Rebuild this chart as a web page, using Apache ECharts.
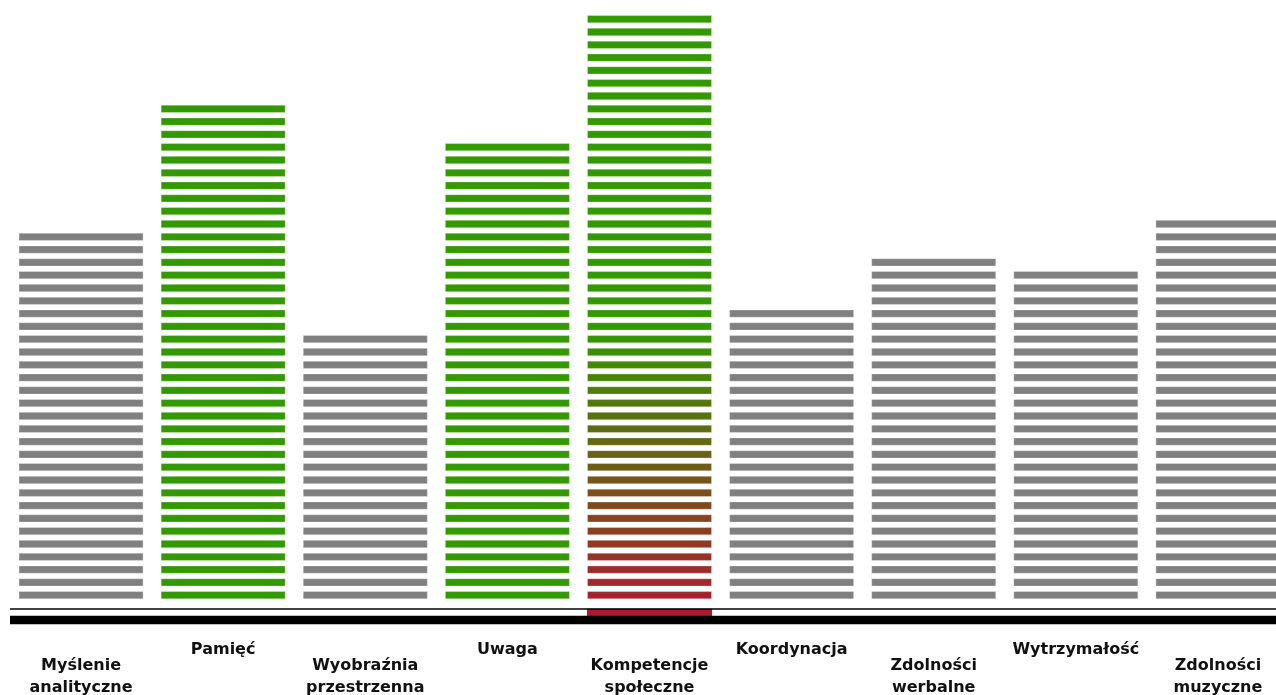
<!DOCTYPE html>
<html>
<head>
<meta charset="utf-8">
<script src="https://cdn.jsdelivr.net/npm/echarts@6/dist/echarts.min.js"></script>
<style>
  html, body { margin: 0; padding: 0; overflow: hidden; background: #fff; }
  #chart { width: 1276px; height: 695px; }
</style>
</head>
<body>
<div id="chart"></div>
<script>
// ---- data ----
const categories = [
  'Myślenie analityczne', 'Pamięć', 'Wyobraźnia przestrzenna', 'Uwaga',
  'Kompetencje społeczne', 'Koordynacja', 'Zdolności werbalne',
  'Wytrzymałość', 'Zdolności muzyczne'
];
const scores = [29, 39, 21, 36, 46, 23, 27, 26, 30];
const greenCategories = ['Pamięć', 'Uwaga'];
const featuredCategory = 'Kompetencje społeczne';

// ---- style ----
const GRAY = '#808080';
const GREEN = '#339900';
const RED = '#b01830';
const BAR_RATIO = 0.88;
const GAP = 0.176;          // half gap between stripes, in value units
const GRAD_FROM = -1.125;   // gradient start (red)
const GRAD_TO = 21.2;       // gradient end (green)
const FONT = '"DejaVu Sans", Verdana, sans-serif';

function renderItem(params, api) {
  const idx = api.value(0);
  const n = api.value(1);
  const name = categories[idx];
  const w = api.size([1, 0])[0] * BAR_RATIO;
  const cx = api.coord([idx, 0])[0];
  const x = cx - w / 2;
  const featured = name === featuredCategory;
  let fill;
  if (featured) {
    fill = new echarts.graphic.LinearGradient(
      0, api.coord([idx, GRAD_FROM])[1], 0, api.coord([idx, GRAD_TO])[1],
      [{ offset: 0, color: RED }, { offset: 1, color: GREEN }], true);
  } else {
    fill = greenCategories.indexOf(name) >= 0 ? GREEN : GRAY;
  }
  const children = [];
  for (let k = 0; k < n; k++) {
    const yTop = api.coord([idx, k + 1 - GAP])[1];
    const yBot = api.coord([idx, k + GAP])[1];
    children.push({
      type: 'rect',
      shape: { x: x + 0.5, y: yTop + 0.5, width: w - 1, height: yBot - yTop - 1 },
      style: { fill: fill, stroke: 'rgba(255,255,255,0.3)', lineWidth: 1 }
    });
  }
  if (featured) {
    const y1 = api.coord([idx, -0.55])[1];
    const y2 = api.coord([idx, -1.125])[1];
    children.push({
      type: 'rect',
      shape: { x: x, y: y1, width: w, height: y2 - y1 },
      style: { fill: fill }
    });
  }
  return { type: 'group', children: children };
}

const labelBase = {
  fontFamily: FONT, fontWeight: 'bold', fontSize: 16, color: '#111',
  lineHeight: 22.3, verticalAlign: 'top',
  formatter: v => v.replace(' ', '\n')
};

const chart = echarts.init(document.getElementById('chart'));
chart.setOption({
  animation: false,
  backgroundColor: '#fff',
  grid: { left: 10, right: -13, top: 0, bottom: 67.8, containLabel: false, outerBoundsMode: 'none' },
  xAxis: [
    {
      type: 'category', data: categories, position: 'bottom',
      axisLine: { show: false }, axisTick: { show: false }, splitLine: { show: false },
      axisLabel: Object.assign({}, labelBase, { margin: 11.3, interval: (i, v) => v.indexOf(' ') < 0 })
    },
    {
      type: 'category', data: categories, position: 'bottom',
      axisLine: { show: false }, axisTick: { show: false }, splitLine: { show: false },
      axisLabel: Object.assign({}, labelBase, { margin: 27.6, interval: (i, v) => v.indexOf(' ') >= 0 })
    }
  ],
  yAxis: {
    type: 'value', min: -2, max: 47, show: false,
    splitLine: { show: false }
  },
  series: [
    {
      type: 'custom',
      xAxisIndex: 0,
      renderItem: renderItem,
      data: scores.map((v, i) => [i, v]),
      z: 2
    },
    {
      type: 'line',
      xAxisIndex: 0,
      data: [],
      z: 3,
      markLine: {
        silent: true,
        symbol: 'none',
        label: { show: false },
        lineStyle: { color: '#000', type: 'solid' },
        data: [
          { yAxis: -0.52, lineStyle: { width: 1.5, color: '#000', type: 'solid' } },
          { yAxis: -1.45, lineStyle: { width: 8.3, color: '#000', type: 'solid' } }
        ]
      }
    }
  ]
});
</script>
</body>
</html>
